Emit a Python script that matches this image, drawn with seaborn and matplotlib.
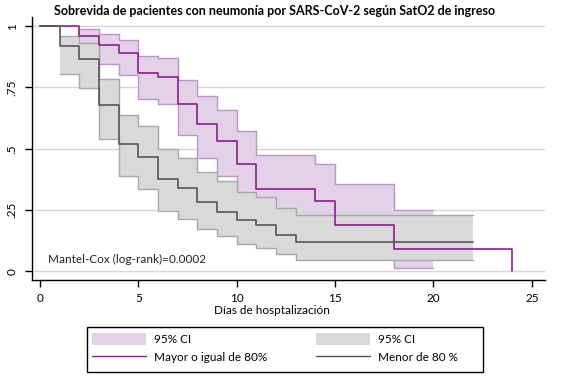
import numpy as np
import pandas as pd
import seaborn as sns
import matplotlib
matplotlib.use("Agg")
import matplotlib.pyplot as plt
from matplotlib.patches import Patch, Rectangle
from matplotlib.lines import Line2D

# Kaplan-Meier estimates
# grupo SatO2 >= 80%
dias_alto = [0, 2, 3, 4, 5, 6, 7, 8, 9, 10, 11, 14, 15, 18, 24]
surv_alto = [1.0, 0.959, 0.925, 0.89, 0.808, 0.792, 0.682, 0.60, 0.533, 0.439, 0.337, 0.288, 0.19, 0.091, 0.0]
ci_dias_alto = [2, 3, 4, 5, 6, 7, 8, 9, 10, 11, 14, 15, 18, 20]
ci_sup_alto = [0.99, 0.97, 0.944, 0.88, 0.871, 0.78, 0.716, 0.657, 0.571, 0.473, 0.439, 0.355, 0.25, 0.25]
ci_inf_alto = [0.932, 0.846, 0.80, 0.705, 0.682, 0.555, 0.463, 0.39, 0.29, 0.20, 0.16, 0.10, 0.015, 0.015]

# grupo SatO2 < 80%
dias_bajo = [0, 1, 2, 3, 4, 5, 6, 7, 8, 9, 10, 11, 12, 13, 22]
surv_bajo = [1.0, 0.918, 0.866, 0.677, 0.52, 0.466, 0.376, 0.339, 0.284, 0.243, 0.208, 0.187, 0.148, 0.12, 0.12]
ci_dias_bajo = [1, 2, 3, 4, 5, 6, 7, 8, 9, 10, 11, 12, 13, 22]
ci_sup_bajo = [0.962, 0.93, 0.783, 0.639, 0.591, 0.50, 0.463, 0.404, 0.37, 0.325, 0.302, 0.259, 0.231, 0.231]
ci_inf_bajo = [0.807, 0.749, 0.541, 0.388, 0.336, 0.247, 0.213, 0.172, 0.142, 0.111, 0.094, 0.069, 0.046, 0.046]

x_ticks = [0, 5, 10, 15, 20, 25]
y_ticks = [0, 0.25, 0.5, 0.75, 1]
y_tick_labels = ["0", ".25", ".5", ".75", "1"]

TITULO = "Sobrevida de pacientes con neumonía por SARS-CoV-2 según SatO2 de ingreso"
XLABEL = "Días de hosptalización"
PVALOR = "Mantel-Cox (log-rank)=0.0002"

# colours
PURPLE = "#8c1c8e"
PURPLE_FILL = "#e2d1e7"
PURPLE_EDGE = "#bb97c8"
GREY_LINE = "#555555"
GREY_FILL = "#d9d9d9"
GREY_EDGE = "#a8a8a8"

sns.set_theme(style="white")
plt.rcParams["font.family"] = ["Lato", "DejaVu Sans"]
FS = 8.5
W, H = 564, 380

fig = plt.figure(figsize=(5.64, 3.80), dpi=100)
ax = fig.add_axes([31.7 / W, 1 - 280 / H, (545 - 31.7) / W, (280 - 16.7) / H])

# gridlines first
for yv in y_ticks:
    ax.axhline(yv, color="#d6d6d6", lw=1.0, zorder=0)

# confidence bands (purple under grey)
ax.fill_between(ci_dias_alto, ci_inf_alto, ci_sup_alto, step="post",
                color=PURPLE_FILL, lw=0, zorder=1)
ax.step(ci_dias_alto, ci_sup_alto, where="post", color=PURPLE_EDGE, lw=1.0, zorder=1.1)
ax.step(ci_dias_alto, ci_inf_alto, where="post", color=PURPLE_EDGE, lw=1.0, zorder=1.1)

ax.fill_between(ci_dias_bajo, ci_inf_bajo, ci_sup_bajo, step="post",
                color=GREY_FILL, lw=0, zorder=2)
ax.step(ci_dias_bajo, ci_sup_bajo, where="post", color=GREY_EDGE, lw=1.0, zorder=2.1)
ax.step(ci_dias_bajo, ci_inf_bajo, where="post", color=GREY_EDGE, lw=1.0, zorder=2.1)

# survival curves
df_alto = pd.DataFrame({"dias": dias_alto, "surv": surv_alto})
df_bajo = pd.DataFrame({"dias": dias_bajo, "surv": surv_bajo})
sns.lineplot(data=df_alto, x="dias", y="surv", estimator=None, drawstyle="steps-post",
             color=PURPLE, lw=1.2, ax=ax, zorder=3)
sns.lineplot(data=df_bajo, x="dias", y="surv", estimator=None, drawstyle="steps-post",
             color=GREY_LINE, lw=1.2, ax=ax, zorder=4)

ax.set_xlim(-0.42, 25.67)
ax.set_ylim(-0.036, 1.039)
ax.set_xticks(x_ticks)
ax.set_yticks(y_ticks)
ax.set_yticklabels(y_tick_labels, rotation=90, va="center")
ax.tick_params(axis="both", direction="out", length=5, width=1, color="black",
               labelsize=FS, labelcolor="black", left=True, bottom=True)
ax.tick_params(axis="y", pad=5)
ax.tick_params(axis="x", pad=4)
ax.set_xlabel("")
ax.set_ylabel("")

for s in ["top", "right"]:
    ax.spines[s].set_visible(False)
for s in ["left", "bottom"]:
    ax.spines[s].set_color("black")
    ax.spines[s].set_linewidth(1.0)

ax.text(0.42, 0.046, PVALOR, fontsize=FS, color="#222222", va="center", ha="left")

fig.text(274.5 / W, 1 - 11 / H, TITULO, fontsize=9, fontweight="bold",
         ha="center", va="center", color="black")
fig.text(272 / W, 1 - 311 / H, XLABEL, fontsize=FS, ha="center", va="center", color="black")

# legend: entries without frame, box drawn by hand
handles = [
    Patch(facecolor=PURPLE_FILL, edgecolor="none", label="95% CI"),
    Line2D([], [], color=PURPLE, lw=1.0, label="Mayor o igual de 80%"),
    Patch(facecolor=GREY_FILL, edgecolor="none", label="95% CI"),
    Line2D([], [], color=GREY_LINE, lw=1.0, label="Menor de 80 %"),
]
leg = fig.legend(handles=handles, ncol=2, loc="upper left",
                 bbox_to_anchor=(92.3 / W, 1 - 332.5 / H),
                 fontsize=FS, frameon=False, handlelength=4.55,
                 handleheight=1.27, handletextpad=0.68, labelspacing=0.48,
                 columnspacing=4.15, borderpad=0, borderaxespad=0)
for t in leg.get_texts():
    t.set_color("black")

fig.patches.append(Rectangle((87.3 / W, 1 - 372.3 / H), (483.3 - 87.3) / W, 45 / H,
                             transform=fig.transFigure, fill=False,
                             edgecolor="black", lw=1.0))

fig.savefig("out.png", dpi=100)
